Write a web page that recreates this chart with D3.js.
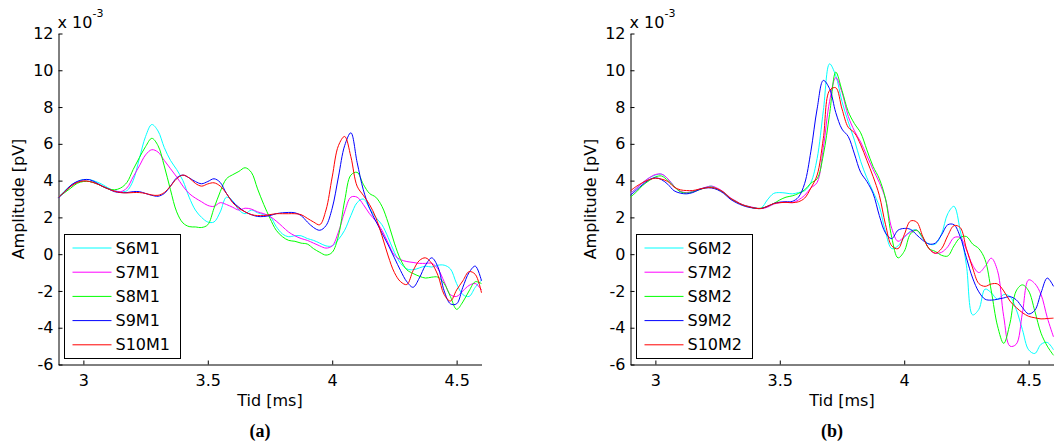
<!DOCTYPE html>
<html>
<head>
<meta charset="utf-8">
<script src="https://cdn.jsdelivr.net/npm/d3@7"></script>
<style>
	body { margin: 0; background: #fff; }
	svg { display: block; }
</style>
</head>
<body>
<script>
'use strict'

// sample times [ms], shared by all series
let times = [
	2.9, 2.925, 2.95, 2.975, 3.0, 3.025, 3.05, 3.075,
	3.1, 3.125, 3.15, 3.175, 3.2, 3.225, 3.25, 3.275,
	3.3, 3.325, 3.35, 3.375, 3.4, 3.425, 3.45, 3.475,
	3.5, 3.525, 3.55, 3.575, 3.6, 3.625, 3.65, 3.675,
	3.7, 3.725, 3.75, 3.775, 3.8, 3.825, 3.85, 3.875,
	3.9, 3.925, 3.95, 3.975, 4.0, 4.025, 4.05, 4.075,
	4.1, 4.125, 4.15, 4.175, 4.2, 4.225, 4.25, 4.275,
	4.3, 4.325, 4.35, 4.375, 4.4, 4.425, 4.45, 4.475,
	4.5, 4.525, 4.55, 4.575, 4.6 ]

let x_ticks = [3, 3.5, 4, 4.5],
	y_ticks = [-6, -4, -2, 0, 2, 4, 6, 8, 10, 12],
	labels_m1 = ['S6M1', 'S7M1', 'S8M1', 'S9M1', 'S10M1'],
	labels_m2 = ['S6M2', 'S7M2', 'S8M2', 'S9M2', 'S10M2']

// amplitudes, x 10^-3 pV
let s6m1 = [
	3.1, 3.45, 3.75, 3.95, 4.05, 4.05, 3.95, 3.8,
	3.6, 3.45, 3.4, 3.45, 4.0, 5.2, 6.4, 7.05,
	6.7, 5.8, 5.1, 4.6, 4.0, 3.1, 2.4, 2.0,
	1.75, 1.75, 2.3, 3.1, 2.9, 2.4, 2.2, 2.4,
	2.25, 2.15, 2.05, 1.5, 1.1, 0.95, 1.0, 1.0,
	0.85, 0.75, 0.6, 0.45, 0.45, 0.8, 1.3, 2.1,
	2.8, 3.0, 2.5, 2.0, 1.6, 0.9, 0.1, -0.5,
	-0.8, -0.85, -0.75, -0.65, -0.7, -0.6, -0.6, -0.8,
	-1.6, -2.2, -2.3, -1.8, -1.4 ]
let s7m1 = [
	3.1, 3.4, 3.7, 3.9, 3.98, 3.95, 3.85, 3.7,
	3.55, 3.45, 3.4, 3.6, 4.2, 4.8, 5.4, 5.68,
	5.55, 5.1, 4.65, 4.2, 3.7, 3.3, 3.05, 2.85,
	2.65, 2.6, 2.8, 2.7, 2.55, 2.4, 2.5, 2.45,
	2.3, 2.2, 2.05, 1.8, 1.5, 1.2, 1.0, 0.85,
	0.75, 0.6, 0.45, 0.33, 0.45, 1.2, 2.3, 3.1,
	3.1, 2.7, 2.2, 1.8, 1.3, 0.6, -0.05, -0.3,
	-0.4, -0.45, -0.5, -0.5, -0.5, -0.8, -1.5, -2.2,
	-2.3, -2.0, -1.7, -1.6, -1.95 ]
let s8m1 = [
	3.1, 3.35, 3.6, 3.85, 3.95, 3.95, 3.85, 3.7,
	3.55, 3.5, 3.6, 3.9, 4.6, 5.25, 5.85, 6.3,
	5.9, 4.8, 3.5, 2.3, 1.7, 1.5, 1.48, 1.45,
	1.6, 2.5, 3.4, 4.1, 4.32, 4.5, 4.7, 4.45,
	3.55, 2.7, 1.95, 1.3, 0.95, 0.75, 0.7, 0.6,
	0.55, 0.3, 0.1, -0.05, 0.1, 1.0, 2.9, 4.3,
	4.45, 3.8, 3.3, 3.1, 2.6, 1.7, 0.6, -0.3,
	-0.85, -1.05, -1.2, -1.3, -1.25, -1.25, -1.6, -2.3,
	-3.0, -2.6, -2.0, -1.5, -1.6 ]
let s9m1 = [
	3.05, 3.4, 3.75, 3.95, 4.05, 4.05, 3.9, 3.7,
	3.55, 3.4, 3.35, 3.35, 3.4, 3.4, 3.3, 3.2,
	3.15, 3.3, 3.7, 4.15, 4.3, 4.15, 3.95, 3.83,
	3.95, 4.1, 3.9, 3.3, 2.85, 2.55, 2.3, 2.15,
	2.05, 2.05, 2.1, 2.2, 2.25, 2.27, 2.25, 2.1,
	1.75, 1.45, 1.3, 1.55, 2.5, 4.2, 5.9, 6.6,
	5.0, 3.5, 2.5, 1.8, 1.15, 0.5, -0.2, -0.9,
	-1.5, -1.8, -1.3, -0.6, -0.2, -0.7, -2.0, -2.7,
	-2.7, -1.8, -1.0, -0.65, -1.45 ]
let s10m1 = [
	3.1, 3.4, 3.7, 3.9, 3.98, 3.95, 3.85, 3.7,
	3.55, 3.42, 3.35, 3.33, 3.35, 3.35, 3.3, 3.22,
	3.2, 3.35, 3.7, 4.1, 4.3, 4.15, 3.85, 3.7,
	3.82, 3.88, 3.7, 3.3, 2.8, 2.5, 2.3, 2.15,
	2.1, 2.1, 2.15, 2.2, 2.2, 2.2, 2.2, 2.15,
	1.95, 1.75, 1.6, 2.4, 4.2, 5.9, 6.4, 5.3,
	3.7, 3.2, 2.7, 2.0, 1.0, -0.1, -1.0, -1.5,
	-1.65, -0.9, -0.35, -0.2, -0.5, -1.15, -2.2, -2.55,
	-1.95, -1.45, -0.95, -1.1, -2.1 ]

let s6m2 = [
	3.3, 3.6, 3.9, 4.15, 4.3, 4.35, 4.1, 3.7,
	3.4, 3.35, 3.4, 3.53, 3.62, 3.7, 3.55, 3.35,
	3.05, 2.85, 2.68, 2.58, 2.5, 2.5, 2.95, 3.3,
	3.35, 3.32, 3.28, 3.35, 3.45, 3.9, 5.2, 7.8,
	10.35, 9.7, 8.3, 7.2, 6.2, 5.05, 4.15, 3.4,
	2.6, 1.2, 0.3, 0.45, 0.9, 1.25, 1.32, 0.85,
	0.55, 0.55, 1.1, 2.2, 2.6, 1.3, -0.6, -3.3,
	-3.0, -1.9, -2.1, -2.45, -2.2, -2.3, -3.0, -4.1,
	-5.2, -5.4, -4.9, -4.8, -5.2 ]
let s7m2 = [
	3.3, 3.6, 3.9, 4.15, 4.33, 4.35, 4.1, 3.7,
	3.42, 3.35, 3.4, 3.53, 3.63, 3.7, 3.58, 3.38,
	3.08, 2.88, 2.7, 2.6, 2.52, 2.48, 2.55, 2.72,
	2.8, 2.82, 2.8, 2.95, 3.2, 3.6, 3.9, 5.8,
	8.3, 9.6, 8.8, 7.5, 6.7, 6.1, 5.35, 4.6,
	3.9, 3.0, 1.4, 0.7, 0.95, 1.2, 1.3, 0.9,
	0.3, 0.05, 0.1, 0.4, 0.9, 0.9, 0.25, -0.6,
	-1.0, -0.67, -0.22, -0.9, -3.4, -5.0, -4.9, -3.2,
	-1.4, -1.6, -2.2, -3.45, -4.5 ]
let s8m2 = [
	3.1, 3.4, 3.75, 4.0, 4.2, 4.25, 4.0, 3.68,
	3.4, 3.32, 3.38, 3.5, 3.6, 3.65, 3.53, 3.35,
	3.05, 2.85, 2.68, 2.58, 2.5, 2.5, 2.6, 2.75,
	2.95, 3.1, 3.17, 3.3, 3.5, 3.86, 4.1, 5.4,
	7.6, 9.9, 8.9, 7.76, 7.1, 6.6, 5.67, 4.77,
	4.1, 3.0, 0.9, -0.2, 0.15, 1.1, 1.3, 0.9,
	0.3, 0.15, -0.06, -0.1, 0.45, 0.9, 0.96, 0.55,
	0.3, -0.3, -2.0, -3.9, -4.85, -3.76, -2.0, -1.67,
	-2.0, -3.1, -4.3, -5.0, -5.5 ]
let s9m2 = [
	3.2, 3.5, 3.8, 4.05, 4.15, 4.05, 3.8, 3.45,
	3.32, 3.28, 3.35, 3.5, 3.6, 3.6, 3.5, 3.3,
	3.0, 2.8, 2.65, 2.55, 2.5, 2.48, 2.6, 2.75,
	2.83, 2.85, 2.87, 3.1, 3.85, 5.6, 7.9, 9.45,
	9.0, 7.7, 6.8, 6.4, 5.45, 4.45, 3.95, 3.3,
	2.1, 1.15, 0.85, 1.3, 1.4, 1.35, 1.05, 0.75,
	0.55, 0.6, 1.05, 1.6, 1.6, 0.95, -0.2, -1.3,
	-2.05, -2.45, -2.5, -2.45, -2.38, -2.31, -2.48, -2.9,
	-3.25, -3.05, -2.1, -1.3, -1.75 ]
let s10m2 = [
	3.45, 3.7, 3.9, 4.05, 4.13, 4.08, 3.95, 3.65,
	3.5, 3.46, 3.46, 3.53, 3.6, 3.62, 3.55, 3.35,
	3.05, 2.85, 2.68, 2.58, 2.5, 2.48, 2.6, 2.75,
	2.8, 2.82, 2.8, 2.85, 3.05, 3.6, 4.3, 6.3,
	8.9, 9.05, 7.9, 6.9, 6.6, 5.95, 5.1, 4.22,
	3.2, 1.6, 0.45, 0.3, 1.05, 1.8, 1.75, 0.95,
	0.3, 0.05, 0.3, 1.0, 1.55, 1.45, 0.3, -0.75,
	-1.6, -1.75, -1.62, -1.62, -2.0, -2.55, -2.9, -3.18,
	-3.38, -3.46, -3.52, -3.5, -3.48 ]

let line_colors = ['#00ffff', '#ff00ff', '#00ff00', '#0000ff', '#ff0000']


let font = '"DejaVu Sans", sans-serif',
	plot_top = 33.5, plot_h = 331, plot_w = 423,
	panels = [
		{x0: 58.5, series: [s6m1, s7m1, s8m1, s9m1, s10m1], labels: labels_m1, caption: '(a)'},
		{x0: 630.5, series: [s6m2, s7m2, s8m2, s9m2, s10m2], labels: labels_m2, caption: '(b)'} ]

let svg = d3.select('body').append('svg')
	.attr('width', 1063).attr('height', 448)
	.style('font-family', font).style('font-size', '16px')

panels.forEach(p => {
	let x = d3.scaleLinear().domain([2.9, 4.6]).range([p.x0, p.x0 + plot_w]),
		y = d3.scaleLinear().domain([-6, 12]).range([plot_top + plot_h, plot_top]),
		line = d3.line().x((d, n) => x(times[n])).y(d => y(d))
			.curve(d3.curveCatmullRom.alpha(0.5)),
		fmt = d => String(d), // plain hyphen minus like the original
		g = svg.append('g')

	g.append('g').attr('transform', `translate(0 ${y.range()[0]})`)
		.call(d3.axisBottom(x).tickValues(x_ticks).tickFormat(fmt)
			.tickSize(-4).tickSizeOuter(0).tickPadding(10))
		.call(s => s.attr('font-family', null).attr('font-size', null))
	g.append('g').attr('transform', `translate(${p.x0} 0)`)
		.call(d3.axisLeft(y).tickValues(y_ticks).tickFormat(fmt)
			.tickSize(-4).tickSizeOuter(0).tickPadding(5))
		.call(s => s.attr('font-family', null).attr('font-size', null))

	g.append('g').selectAll('path').data(p.series).join('path')
		.attr('fill', 'none').attr('stroke-width', 1)
		.attr('stroke', (d, n) => line_colors[n])
		.attr('d', line)

	// legend
	g.append('g').attr('transform', `translate(${p.x0 + 6} 234.5)`)
		.call(s => s.append('rect').attr('width', 116).attr('height', 124)
			.attr('fill', '#fff').attr('stroke', '#000'))
		.call(s => p.labels.forEach((label, n) => {
			let ly = 13.5 + n * 24.2
			s.append('line').attr('x1', 8).attr('x2', 47).attr('y1', ly).attr('y2', ly)
				.attr('stroke', line_colors[n])
			s.append('text').attr('x', 51).attr('y', ly).attr('dy', '0.35em').text(label) }))

	g.append('text').attr('x', p.x0 + plot_w / 2).attr('y', 405.5)
		.attr('text-anchor', 'middle').text('Tid [ms]')
	g.append('text')
		.attr('transform', `translate(${p.x0 - 35} ${plot_top + plot_h / 2}) rotate(-90)`)
		.attr('text-anchor', 'middle').text('Amplitude [pV]')
	g.append('text').attr('x', p.x0 - 1).attr('y', 27.5).text('x 10')
		.append('tspan').attr('dy', -10.5).attr('font-size', '11px').text('-3')
	g.append('text').attr('x', p.x0 + 201.5).attr('y', 436.5)
		.attr('text-anchor', 'middle').attr('font-family', '"Liberation Serif", serif')
		.attr('font-weight', 'bold').attr('font-size', '18px').text(p.caption)
})
</script>
</body>
</html>
